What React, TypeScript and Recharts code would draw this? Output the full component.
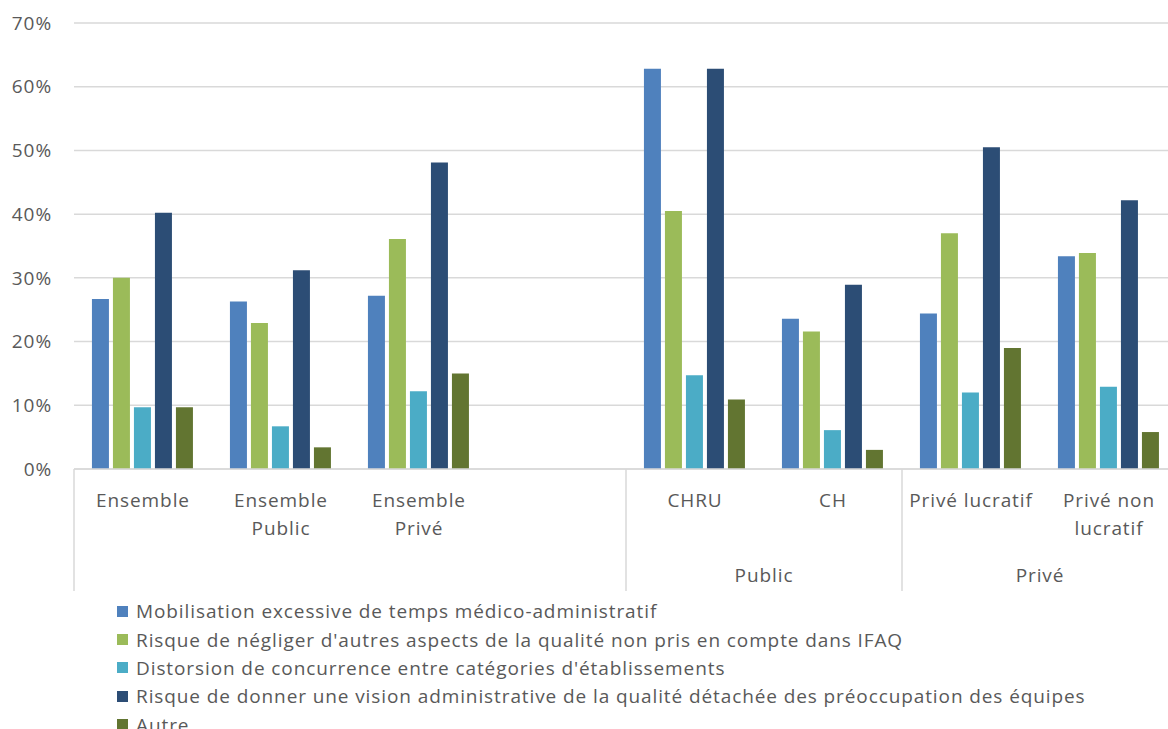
import React from 'react';
import { BarChart, Bar, XAxis, YAxis, CartesianGrid, Legend } from 'recharts';

// categories (second level) and their groups (first level)
const categories = ['Ensemble', 'Ensemble\nPublic', 'Ensemble\nPrivé', '', 'CHRU', 'CH', 'Privé lucratif', 'Privé non\nlucratif'];
const groups = ['', '', '', '', 'Public', 'Public', 'Privé', 'Privé'];

const mobilisation = [26.7, 26.3, 27.2, null, 62.8, 23.6, 24.4, 33.4];
const negliger = [30.0, 22.9, 36.1, null, 40.5, 21.6, 37.0, 33.9];
const distorsion = [9.7, 6.7, 12.2, null, 14.7, 6.1, 12.0, 12.9];
const vision = [40.2, 31.2, 48.1, null, 62.8, 28.9, 50.5, 42.2];
const autre = [9.7, 3.4, 15.0, null, 10.9, 3.0, 19.0, 5.8];

const yTicks = [0, 10, 20, 30, 40, 50, 60, 70];

const series = [
  { key: 'mobilisation', name: 'Mobilisation excessive de temps médico-administratif', color: '#4f81bd' },
  { key: 'negliger', name: "Risque de négliger d'autres aspects de la qualité non pris en compte dans IFAQ", color: '#9bbb59' },
  { key: 'distorsion', name: "Distorsion de concurrence entre catégories d'établissements", color: '#4bacc6' },
  { key: 'vision', name: 'Risque de donner une vision administrative de la qualité détachée des préoccupation des équipes', color: '#2c4d75' },
  { key: 'autre', name: 'Autre', color: '#627531' },
];

const data = categories.map((name, i) => ({
  name,
  group: groups[i],
  mobilisation: mobilisation[i],
  negliger: negliger[i],
  distorsion: distorsion[i],
  vision: vision[i],
  autre: autre[i],
}));

const W = 1190;
const H = 729;
const Y_AXIS_W = 74;
const X_AXIS_H = 122;
const MARGIN = { top: 23, right: 12, left: 0, bottom: 138 };
const BAND = (W - Y_AXIS_W - MARGIN.left - MARGIN.right) / categories.length;
const AXIS_Y = H - MARGIN.bottom - X_AXIS_H;

const FONT = '"Open Sans", Lato, sans-serif';
const FS = 19;
const LS = 0.9;
const TEXT = '#595959';
const GRID = '#d9d9d9';

const CategoryTick = (props: any) => {
  const { x } = props;
  const index = props.index ?? props.payload?.index ?? 0;
  const lines = categories[index].split('\n');
  const left = x - BAND / 2;
  const g = groups[index];
  const isStart = index === 0 || groups[index - 1] !== g;
  let span = 0;
  if (isStart) {
    for (let j = index; j < groups.length && groups[j] === g; j++) span++;
  }
  const isLast = index === categories.length - 1;
  return (
    <g>
      {lines.map((l, k) => (
        <text key={k} x={x} y={AXIS_Y + 38 + k * 28} textAnchor="middle" fill={TEXT} fontSize={FS} fontFamily={FONT} letterSpacing={LS}>
          {l}
        </text>
      ))}
      {isStart && <line x1={left} x2={left} y1={AXIS_Y} y2={AXIS_Y + X_AXIS_H} stroke={GRID} strokeWidth={1.5} />}
      {isLast && <line x1={x + BAND / 2} x2={x + BAND / 2} y1={AXIS_Y} y2={AXIS_Y + X_AXIS_H} stroke={GRID} strokeWidth={1.5} />}
      {isStart && g && (
        <text x={left + (span * BAND) / 2} y={AXIS_Y + 113} textAnchor="middle" fill={TEXT} fontSize={FS} fontFamily={FONT} letterSpacing={LS}>
          {g}
        </text>
      )}
    </g>
  );
};

const LegendList = (props: any) => {
  const payload = [...(props.payload || [])].sort(
    (a: any, b: any) => series.findIndex((s) => s.name === a.value) - series.findIndex((s) => s.name === b.value)
  );
  return (
    <div style={{ fontFamily: FONT, fontSize: FS, color: TEXT, letterSpacing: LS }}>
      {payload.map((p: any) => (
        <div key={p.value} style={{ display: 'flex', alignItems: 'center', height: 28.4, whiteSpace: 'nowrap' }}>
          <span style={{ display: 'inline-block', width: 11, height: 11, background: p.color, marginRight: 8 }} />
          <span>{p.value}</span>
        </div>
      ))}
    </div>
  );
};

export default function App() {
  return (
    <div style={{ position: 'absolute', left: 0, top: 0, width: 1168, height: 729, overflow: 'hidden', background: '#fff' }}>
      <BarChart width={W} height={H} data={data} margin={MARGIN} barCategoryGap="13%" barGap={4}>
        <CartesianGrid vertical={false} stroke={GRID} strokeWidth={1.5} />
        <XAxis
          dataKey="name"
          height={X_AXIS_H}
          interval={0}
          tickLine={false}
          axisLine={{ stroke: GRID, strokeWidth: 1.5 }}
          tick={<CategoryTick />}
        />
        <YAxis
          width={Y_AXIS_W}
          domain={[0, 70]}
          ticks={yTicks}
          axisLine={false}
          tickLine={false}
          tickMargin={16}
          tickFormatter={(v: number) => `${v}%`}
          tick={{ fill: TEXT, fontSize: FS, fontFamily: FONT, letterSpacing: LS }}
        />
        <Legend
          layout="horizontal"
          verticalAlign="middle"
          align="center"
          content={<LegendList />}
          wrapperStyle={{ left: 117, top: 597, width: 1040, height: 140 }}
        />
        {series.map((s) => (
          <Bar key={s.key} dataKey={s.key} name={s.name} fill={s.color} isAnimationActive={false} />
        ))}
      </BarChart>
    </div>
  );
}
